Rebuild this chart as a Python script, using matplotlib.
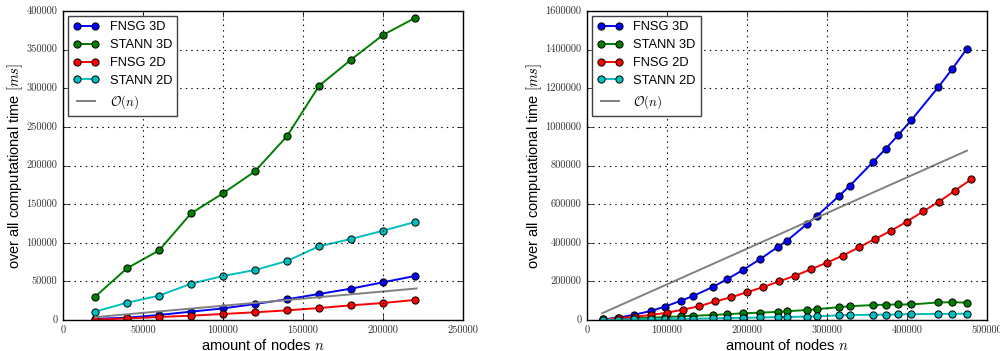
import numpy as np
import matplotlib.pyplot as plt
import matplotlib.ticker as mticker

plt.style.use('classic')
plt.rcParams['mathtext.fontset'] = 'cm'
plt.rcParams['figure.facecolor'] = 'white'
plt.rcParams['savefig.facecolor'] = 'white'

# left panel: small problem sizes
n_left = [20000, 40000, 60000, 80000, 100000, 120000, 140000, 160000, 180000, 200000, 220000]
fnsg3d_left = [1500, 3000, 6500, 10800, 15000, 20700, 26800, 33700, 40600, 48800, 57000]
stann3d_left = [30000, 67000, 90000, 138000, 164000, 192500, 238000, 303000, 337000, 369000, 391000]
fnsg2d_left = [500, 2000, 3900, 5600, 7800, 10000, 12500, 15500, 19000, 22000, 26000]
stann2d_left = [10800, 22400, 31500, 47000, 57000, 64700, 76400, 95400, 104900, 115600, 126900]
on_x_left = [20000, 221000]
on_y_left = [3700, 40800]

# right panel: large problem sizes
n3d_right = [19683, 39304, 59319, 79507, 97336, 117649, 132651, 157464, 175616, 195112,
             216000, 238328, 250047, 274625, 287496, 314432, 328509, 357911, 373248,
             389017, 405224, 438976, 456533, 474552]
fnsg3d_right = [3500, 12000, 27500, 46600, 69500, 100000, 124300, 171500, 212300, 259500,
                314200, 378000, 410700, 496000, 539500, 640000, 695000, 820000, 886000,
                958000, 1034000, 1205000, 1300000, 1403000]
stann3d_right = [2000, 6000, 9000, 12000, 15000, 19000, 22000, 26000, 30000, 35000,
                 38000, 42000, 45500, 51500, 56500, 66000, 71500, 77500, 79500,
                 80500, 80500, 91000, 92000, 90000]
stann2d_right = [800, 1800, 2800, 4000, 5000, 6000, 7000, 8500, 10000, 11500,
                 13000, 15000, 16000, 17500, 19000, 24000, 26000, 26800, 28000,
                 29000, 30500, 31500, 32000, 33000]
n2d_right = [20000, 40000, 60000, 80000, 100000, 120000, 140000, 160000, 180000, 200000,
             220000, 240000, 260000, 280000, 300000, 320000, 340000, 360000, 380000,
             400000, 420000, 440000, 460000, 480000]
fnsg2d_right = [3500, 8700, 17000, 26000, 38000, 54000, 71000, 96000, 117000, 144000,
                170000, 200000, 229000, 263000, 297000, 334000, 376000, 420000, 462000,
                510000, 562000, 613000, 670000, 728000]
on_x_right = [19000, 475000]
on_y_right = [35000, 877000]

labels = ['FNSG 3D', 'STANN 3D', 'FNSG 2D', 'STANN 2D']
colors = ['b', 'g', 'r', 'c']

fig = plt.figure(figsize=(10, 3.51), dpi=100)
ax1 = fig.add_axes([0.063, 0.0883, 0.4, 0.8803])
ax2 = fig.add_axes([0.587, 0.0883, 0.4, 0.8803])

line_kw = dict(marker='o', lw=1.4, ms=5.2, mec='k', mew=0.7)

left_series = [(n_left, fnsg3d_left), (n_left, stann3d_left),
               (n_left, fnsg2d_left), (n_left, stann2d_left)]
right_series = [(n3d_right, fnsg3d_right), (n3d_right, stann3d_right),
                (n2d_right, fnsg2d_right), (n3d_right, stann2d_right)]

for ax, series, onx, ony in [(ax1, left_series, on_x_left, on_y_left),
                             (ax2, right_series, on_x_right, on_y_right)]:
    for (x, y), lab, c in zip(series, labels, colors):
        ax.plot(x, y, color=c, label=lab, **line_kw)
    ax.plot(onx, ony, color='gray', lw=1.4, label=r'$\mathcal{O}(n)$')
    ax.grid(True, color='k', linestyle=':', lw=0.8)
    ax.tick_params(labelsize=7.5, direction='in', length=4)
    ax.ticklabel_format(style='plain', useOffset=False)
    ax.set_xlabel(r'amount of nodes $n$', fontsize=10.5, family='Liberation Sans', labelpad=2)
    ax.set_ylabel(r'over all computational time $[ms]$', fontsize=10.5,
                  family='Liberation Sans', labelpad=1)
    leg = ax.legend(loc='upper left', numpoints=2, fancybox=False,
                    prop={'family': 'Liberation Sans', 'size': 9.3},
                    borderaxespad=0.4, handlelength=2.0, labelspacing=0.45)
    leg.get_frame().set_edgecolor('0.25')
    leg.get_frame().set_linewidth(1.0)

ax1.set_xlim(0, 250000)
ax1.set_ylim(0, 400000)
ax1.xaxis.set_major_locator(mticker.MultipleLocator(50000))
ax1.yaxis.set_major_locator(mticker.MultipleLocator(50000))
ax2.set_xlim(0, 500000)
ax2.set_ylim(0, 1600000)
ax2.xaxis.set_major_locator(mticker.MultipleLocator(100000))
ax2.yaxis.set_major_locator(mticker.MultipleLocator(200000))

for ax in (ax1, ax2):
    for lbl in ax.get_xticklabels() + ax.get_yticklabels():
        lbl.set_fontfamily('cmr10')
        lbl.set_fontsize(7.5)
        lbl.set_color('0.2')

fig.savefig('out.png', dpi=100)
